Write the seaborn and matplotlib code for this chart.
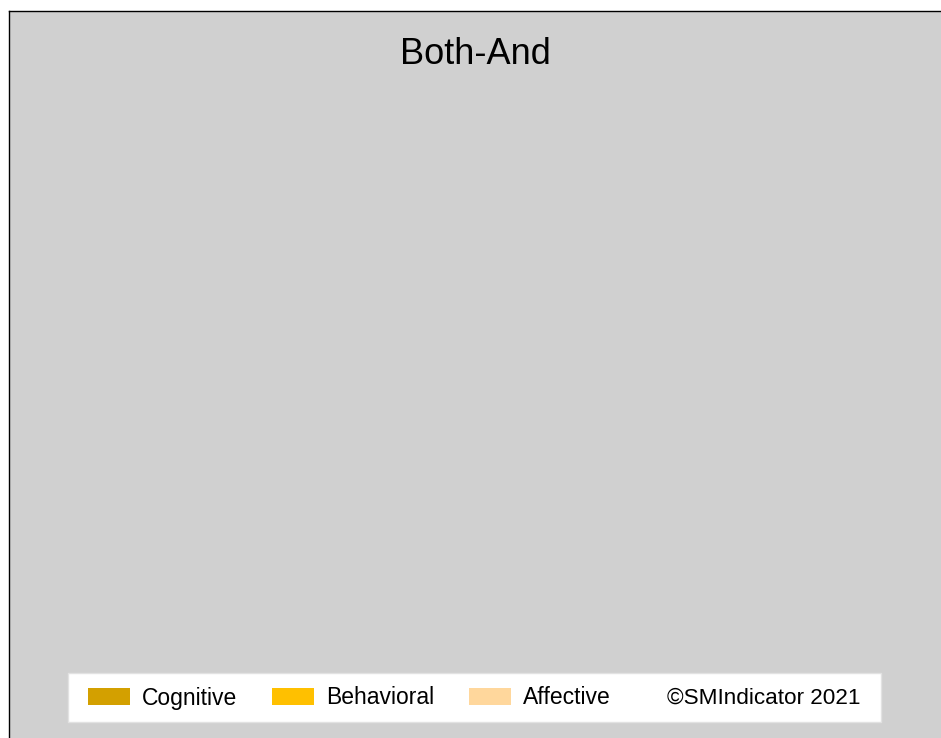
import matplotlib
matplotlib.use("Agg")
import matplotlib.pyplot as plt
from matplotlib.patches import Patch, Rectangle
import seaborn as sns
import pandas as pd

# ---- data ----
categories = ["Cognitive", "Behavioral", "Affective"]
values = [0, 0, 0]
colors = ["#D3A000", "#FFC000", "#FFD79C"]
title = "Both-And"
credit = "\u00a9SMIndicator 2021"

W, H = 941, 738
sns.set_theme(style="white")
plt.rcParams["font.family"] = ["Liberation Sans", "DejaVu Sans"]
plt.rcParams["text.color"] = "black"

fig = plt.figure(figsize=(W / 100, H / 100), dpi=100, facecolor="white")
ax = fig.add_axes([9 / W, 0, (W - 9) / W, (H - 11) / H])
ax.set_facecolor("#D0D0D0")

df = pd.DataFrame({"category": categories, "value": values})
sns.barplot(data=df, x="category", y="value", hue="category",
            palette=colors, legend=False, linewidth=0, ax=ax)
ax.set_ylim(0, 1)
ax.set_xticks([])
ax.set_yticks([])
ax.set_xlabel("")
ax.set_ylabel("")
for s in ["right", "bottom"]:
    ax.spines[s].set_visible(False)
for s in ["left", "top"]:
    ax.spines[s].set_visible(True)
    ax.spines[s].set_color("black")
    ax.spines[s].set_linewidth(1.0)

fig.text(475 / W, 1 - 55 / H, title, ha="center", va="center",
         fontsize=26, color="black")

# legend box
box = Rectangle((68 / W, (H - 722) / H), 813 / W, 49 / H,
                transform=fig.transFigure, facecolor="white",
                edgecolor="#E2E2E2", linewidth=1, zorder=1)
fig.add_artist(box)

handles = [Patch(facecolor=c, edgecolor="none", label=l)
           for c, l in zip(colors, categories)]
fs = 16.5
leg = fig.legend(handles=handles, loc="center left",
                 bbox_to_anchor=(88 / W, 1 - 698 / H), ncol=3, frameon=False,
                 fontsize=fs, handlelength=1.83, handleheight=0.7,
                 handletextpad=0.52, columnspacing=1.52, borderpad=0,
                 borderaxespad=0, labelcolor="black")

fig.text(667 / W, 1 - 698 / H, credit, ha="left", va="center",
         fontsize=16.2, color="black", zorder=6)

fig.savefig("out.png", dpi=100, facecolor="white")
